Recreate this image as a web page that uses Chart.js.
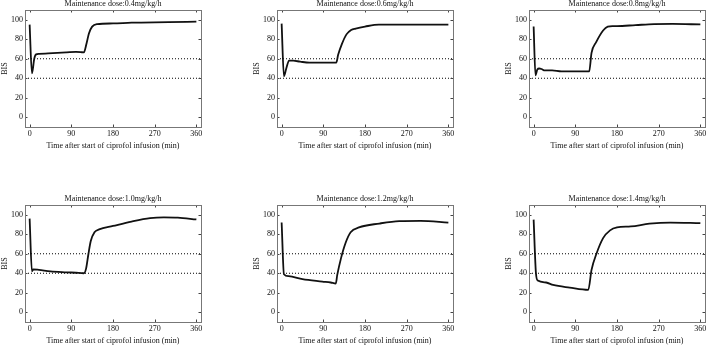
<!DOCTYPE html>
<html>
<head>
<meta charset="utf-8">
<script src="https://cdn.jsdelivr.net/npm/chart.js@4.4.1/dist/chart.umd.min.js"></script>
<style>
  html, body { margin: 0; padding: 0; background: #fff; overflow: hidden; }
  body { width: 708px; height: 346px; position: relative; }
  canvas { position: absolute; }
</style>
</head>
<body>
<canvas id="panel1" width="205" height="155" style="left:0px;top:0px"></canvas>
<canvas id="panel2" width="205" height="155" style="left:252px;top:0px"></canvas>
<canvas id="panel3" width="205" height="155" style="left:504px;top:0px"></canvas>
<canvas id="panel4" width="205" height="155" style="left:0px;top:195px"></canvas>
<canvas id="panel5" width="205" height="155" style="left:252px;top:195px"></canvas>
<canvas id="panel6" width="205" height="155" style="left:504px;top:195px"></canvas>
<script>
const ticksX = [0, 90, 180, 270, 360];
const ticksY = [0, 20, 40, 60, 80, 100];
const umbrales = [40, 60];

const dosis = ['0.4', '0.6', '0.8', '1.0', '1.2', '1.4'];

const tiempo04 = [0, 5, 10, 14, 20, 40, 60, 80, 100, 110, 117, 123, 128, 135, 146, 180, 220, 300, 360];
const bis04 = [95, 45, 60, 64.5, 65, 65.5, 66, 66.5, 67, 66.8, 66.5, 76, 86, 93, 95.5, 96.2, 97, 97.5, 98];

const tiempo06 = [0, 5, 10, 16, 25, 40, 60, 90, 118, 122, 130, 140, 150, 160, 180, 210, 250, 300, 360];
const bis06 = [96, 42, 50, 58, 58, 57, 56, 56, 56, 64, 75, 85, 89.5, 91, 93, 95, 95, 95, 95];

const tiempo08 = [0, 4, 8, 12, 17, 24, 40, 60, 90, 120, 125, 135, 150, 160, 170, 180, 220, 260, 300, 360];
const bis08 = [93, 43, 49, 50, 49.5, 48, 48, 47, 47, 47, 66, 77, 89, 93, 93.5, 93.5, 94.5, 95.5, 95.7, 95.2];

const tiempo10 = [0, 5, 8, 20, 45, 80, 100, 117, 122, 127, 132, 140, 150, 180, 220, 260, 290, 320, 360];
const bis10 = [96, 42, 44, 43.5, 42, 41, 40.5, 40, 45, 60, 73, 82, 85, 88.5, 93, 96.5, 97.3, 97, 95.2];

const tiempo12 = [0, 5, 15, 45, 88, 106, 117, 120, 128, 138, 149, 167, 211, 254, 300, 360];
const bis12 = [92, 39, 37, 34, 31.5, 30.5, 29.5, 38, 55, 71, 82, 87, 91, 93.5, 93.8, 92];

const tiempo14 = [0, 5, 9, 27, 42, 78, 118, 125, 136, 150, 165, 180, 210, 250, 295, 360];
const bis14 = [95, 40, 32.5, 30.5, 28, 25.3, 23, 43.5, 60.5, 76, 84, 87, 88, 90.8, 92, 91.4];

const series = [
  [tiempo04, bis04], [tiempo06, bis06], [tiempo08, bis08],
  [tiempo10, bis10], [tiempo12, bis12], [tiempo14, bis14]
];

const fuente = { family: '"Liberation Serif", "Times New Roman", serif', size: 8 };

// caja gris con marcas hacia dentro, estilo matlab
const cajaPlugin = {
  id: 'caja',
  afterDraw(chart) {
    const ctx = chart.ctx;
    const a = chart.chartArea;
    const sx = chart.scales.x;
    const sy = chart.scales.y;
    ctx.save();
    ctx.setLineDash([]);
    ctx.lineWidth = 1;
    ctx.strokeStyle = '#444';
    ctx.beginPath();
    ticksX.forEach(v => {
      const px = Math.round(sx.getPixelForValue(v)) + 0.5;
      ctx.moveTo(px, a.bottom); ctx.lineTo(px, a.bottom - 2.5);
      ctx.moveTo(px, a.top); ctx.lineTo(px, a.top + 2.5);
    });
    ticksY.forEach(v => {
      const py = Math.round(sy.getPixelForValue(v)) + 0.5;
      ctx.moveTo(a.left, py); ctx.lineTo(a.left + 2.5, py);
      ctx.moveTo(a.right, py); ctx.lineTo(a.right - 2.5, py);
    });
    ctx.stroke();
    ctx.strokeStyle = '#777';
    ctx.strokeRect(Math.round(a.left) + 0.5, Math.round(a.top) + 0.5,
      Math.round(a.right - a.left), Math.round(a.bottom - a.top));
    ctx.restore();
  }
};

function crearPanel(indice) {
  const [tiempos, valores] = series[indice];
  const ctx = document.getElementById('panel' + (indice + 1)).getContext('2d');

  const lineasUmbral = umbrales.map(u => ({
    data: [{ x: -10, y: u }, { x: 370, y: u }],
    borderColor: '#000',
    borderWidth: 1,
    borderDash: [1, 2],
    pointRadius: 0
  }));

  new Chart(ctx, {
    type: 'line',
    data: {
      datasets: [{
        data: tiempos.map((t, i) => ({ x: t, y: valores[i] })),
        borderColor: '#111',
        borderWidth: 1.8,
        cubicInterpolationMode: 'monotone',
        pointRadius: 0
      }, ...lineasUmbral]
    },
    options: {
      responsive: false,
      animation: false,
      layout: { padding: { left: 0, right: 4, top: 0, bottom: 0 } },
      plugins: {
        legend: { display: false },
        tooltip: { enabled: false },
        title: {
          display: true,
          fullSize: false,
          text: 'Maintenance dose:' + dosis[indice] + 'mg/kg/h',
          color: '#111',
          font: { ...fuente, weight: 'normal', lineHeight: 1 },
          padding: { top: 0, bottom: 2 }
        }
      },
      scales: {
        x: {
          type: 'linear',
          min: -10,
          max: 370,
          grid: { display: false, drawTicks: false },
          border: { display: false },
          afterBuildTicks: s => { s.ticks = ticksX.map(v => ({ value: v })); },
          afterFit: s => { s.height = 28; },
          ticks: { color: '#111', font: fuente, padding: 2, maxRotation: 0 },
          title: {
            display: true,
            text: 'Time after start of ciprofol infusion (min)',
            color: '#111',
            font: fuente,
            padding: { top: 0, bottom: 4 }
          }
        },
        y: {
          min: -10,
          max: 110,
          grid: { display: false, drawTicks: false },
          border: { display: false },
          afterBuildTicks: s => { s.ticks = ticksY.map(v => ({ value: v })); },
          afterFit: s => { s.width = 25; },
          ticks: { color: '#111', font: fuente, padding: 2 },
          title: {
            display: true,
            text: 'BIS',
            color: '#111',
            font: fuente,
            padding: 0
          }
        }
      }
    },
    plugins: [cajaPlugin]
  });
}

for (let i = 0; i < 6; i++) crearPanel(i);
</script>
</body>
</html>
